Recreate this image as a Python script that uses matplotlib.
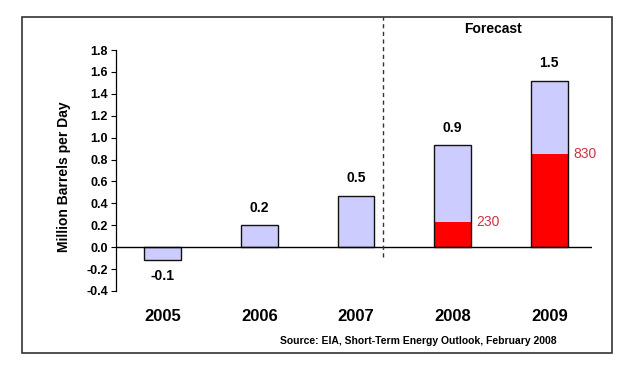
import matplotlib.pyplot as plt
from matplotlib.patches import Rectangle
from matplotlib.transforms import blended_transform_factory

plt.rcParams["font.family"] = ["Liberation Sans", "DejaVu Sans"]

years = ["2005", "2006", "2007", "2008", "2009"]
totals = [-0.12, 0.20, 0.47, 0.93, 1.52]
total_labels = ["-0.1", "0.2", "0.5", "0.9", "1.5"]
red_values = [0.0, 0.0, 0.0, 0.23, 0.85]
red_labels = ["", "", "", "230", "830"]
y_ticks = [-0.4, -0.2, 0.0, 0.2, 0.4, 0.6, 0.8, 1.0, 1.2, 1.4, 1.6, 1.8]

LIGHT = "#ccccff"
RED = "#ff0000"
RED_TEXT = "#cc3344"

fig = plt.figure(figsize=(6.4, 3.69), dpi=100)
ax = fig.add_axes([0.1808, 0.2114, 0.744, 0.653])

x = list(range(len(years)))
width = 0.38

ax.bar(x, totals, width=width, color=LIGHT, linewidth=0, zorder=2)
ax.bar(x, red_values, width=width, color=RED, linewidth=0, zorder=3)
ax.bar(x, totals, width=width, fill=False, edgecolor="#111111", linewidth=1.0, zorder=4)

ax.axhline(0, color="black", linewidth=1.0, zorder=5)

for xi, val, lab in zip(x, totals, total_labels):
    y = val + 0.16 if val >= 0 else val - 0.14
    ax.text(xi, y, lab, ha="center", va="center", fontsize=10, fontweight="bold")

for xi, val, lab in zip(x, red_values, red_labels):
    if lab:
        ax.text(xi + 0.245, val, lab, ha="left", va="center", fontsize=10, color=RED_TEXT)

# forecast divider
ax.plot([2.28, 2.28], [-0.09, 2.1], color="#333333", linewidth=1.0,
        linestyle=(0, (3, 2.5)), clip_on=False, zorder=6)

ax.set_xlim(-0.485, 4.44)
ax.set_ylim(-0.4, 1.8)
ax.set_yticks(y_ticks)
ax.set_yticklabels([f"{t:.1f}" for t in y_ticks], fontsize=9, fontweight="bold")
ax.tick_params(axis="y", direction="out", length=3.5, width=0.8, pad=2)
ax.set_xticks([])

for side in ["top", "right", "bottom"]:
    ax.spines[side].set_visible(False)
ax.spines["left"].set_linewidth(0.9)

ax.set_ylabel("Million Barrels per Day", fontsize=10, fontweight="bold")
ax.yaxis.set_label_coords(-0.094, 0.473)

trans = blended_transform_factory(ax.transData, fig.transFigure)
for xi, yr in zip(x, years):
    ax.text(xi, 0.141, yr, transform=trans, ha="center", va="center",
            fontsize=12, fontweight="bold")

fig.text(0.770, 0.921, "Forecast", ha="center", va="center", fontsize=10, fontweight="bold")
fig.text(0.869, 0.076, "Source: EIA, Short-Term Energy Outlook, February 2008",
         ha="right", va="center", fontsize=7.5, fontweight="bold")

fig.patches.append(Rectangle((0.0344, 0.0434), 0.922, 0.9106, transform=fig.transFigure,
                             fill=False, edgecolor="#333333", linewidth=1.2))

fig.savefig("out.png", dpi=100)
